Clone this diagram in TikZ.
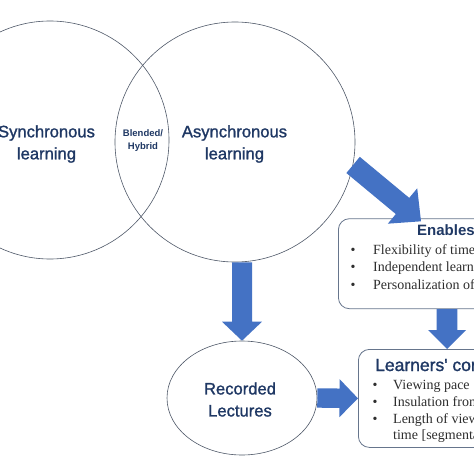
\documentclass[tikz,border=0pt]{standalone}
\usepackage{fontspec}
\setmainfont{Liberation Serif}
\setsansfont{Liberation Sans}
\newfontfamily\heavysans[FakeBold=1.3]{Liberation Sans}
\usetikzlibrary{calc,shapes.geometric}
\definecolor{navy}{HTML}{1F3864}
\definecolor{ablue}{HTML}{4472C4}
\definecolor{vennedge}{HTML}{4F5868}
\definecolor{boxedge}{HTML}{66758C}
\definecolor{bodytext}{HTML}{2E2E2E}
% #1 start, #2 tip, #3 shaft half width, #4 head half width, #5 head length
\newcommand\blockarrow[5]{%
  \coordinate (hb) at ($(#2)!#5!(#1)$);
  \fill[ablue] ($(#1)!#3!90:(#2)$) -- ($(hb)!#3!-90:(#1)$) -- ($(hb)!#4!-90:(#1)$) -- (#2)
     -- ($(hb)!#4!90:(#1)$) -- ($(hb)!#3!90:(#1)$) -- ($(#1)!#3!-90:(#2)$) -- cycle;}
\tikzset{
  venn/.style={draw=vennedge, line width=0.6pt, circle, inner sep=0pt},
  bigtitle/.style={font=\heavysans\fontsize{16.6}{22}\selectfont, text=navy, align=center, inner sep=0pt},
  smalltitle/.style={font=\sffamily\bfseries\fontsize{9.5}{13}\selectfont, text=navy, align=center, inner sep=0pt},
  roundbox/.style={draw=boxedge, line width=0.8pt, rounded corners=11pt, fill=white, inner sep=0pt, anchor=north west},
  itemtext/.style={font=\rmfamily\fontsize{14}{17}\selectfont, text=bodytext, inner sep=0pt, anchor=base west},
}
\begin{document}
\begin{tikzpicture}[x=1pt,y=-1pt]
\useasboundingbox (0,0) rectangle (474,474);
\clip (0,0) rectangle (474,474);
\fill[white] (0,0) rectangle (474,474);

% Venn circles
\node[venn, minimum size=238pt] (sync) at (50,140) {};
\node[venn, minimum size=240pt] (async) at (235,142) {};
\node[bigtitle] (synct) at (46.5,144) {Synchronous\\learning};
\node[bigtitle] (asynct) at (234.5,144) {Asynchronous\\learning};
\node[smalltitle] (blend) at (143,141) {Blended/\\Hybrid};

% Recorded lectures ellipse
\node[draw=vennedge, line width=0.6pt, ellipse, minimum width=150pt, minimum height=114pt, inner sep=0pt] (rec) at (242,398) {};
\node[bigtitle] (rect) at (240,399.5) {Recorded\\Lectures};

% Boxes
\node[roundbox, minimum width=230pt, minimum height=90pt] (enables) at (338,218.3) {};
\node[roundbox, minimum width=230pt, minimum height=98pt] (learners) at (358,349) {};

% Enables text
\node[font=\sffamily\bfseries\fontsize{15}{18}\selectfont, text=navy, inner sep=0pt, anchor=base west] (ent) at (417,235.5) {Enables};
\foreach \y/\t [count=\i] in {254.5/Flexibility of time, 271/Independent learning, 289/Personalization of learning}{
  \node[itemtext] (enb\i) at (350.5,\y) {\textbullet};
  \node[itemtext] (eni\i) at (373,\y) {\t};
}

% Learners text
\node[font=\heavysans\fontsize{17.5}{20}\selectfont, text=navy, inner sep=0pt, anchor=base west] (lt) at (375,371) {Learners' control};
\foreach \y/\t [count=\i] in {389/Viewing pace, 406/Insulation from distractions, 423/Length of viewing}{
  \node[itemtext] (lb\i) at (372.5,\y) {\textbullet};
  \node[itemtext] (li\i) at (393,\y) {\t};
}
\node[itemtext] (li4) at (393,439) {time [segmentation]};

% Block arrows
\coordinate (a1s) at (async.-11);
\coordinate (a1e) at ($(enables.north west)+(83,3)$);
\blockarrow{a1s}{a1e}{10.5pt}{23pt}{24pt}

\coordinate (a2s) at (rec.north |- async.south);
\coordinate (a2e) at (rec.north);
\blockarrow{a2s}{a2e}{10pt}{20pt}{19pt}

\coordinate (a3s) at (rec.east);
\coordinate (a3e) at (learners.west);
\blockarrow{a3s}{a3e}{9.7pt}{19pt}{18.5pt}

\coordinate (a4s) at ($(enables.south west)+(109,0)$);
\coordinate (a4e) at ($(learners.north west)+(89,0)$);
\blockarrow{a4s}{a4e}{10.3pt}{19pt}{19pt}
\end{tikzpicture}
\end{document}
